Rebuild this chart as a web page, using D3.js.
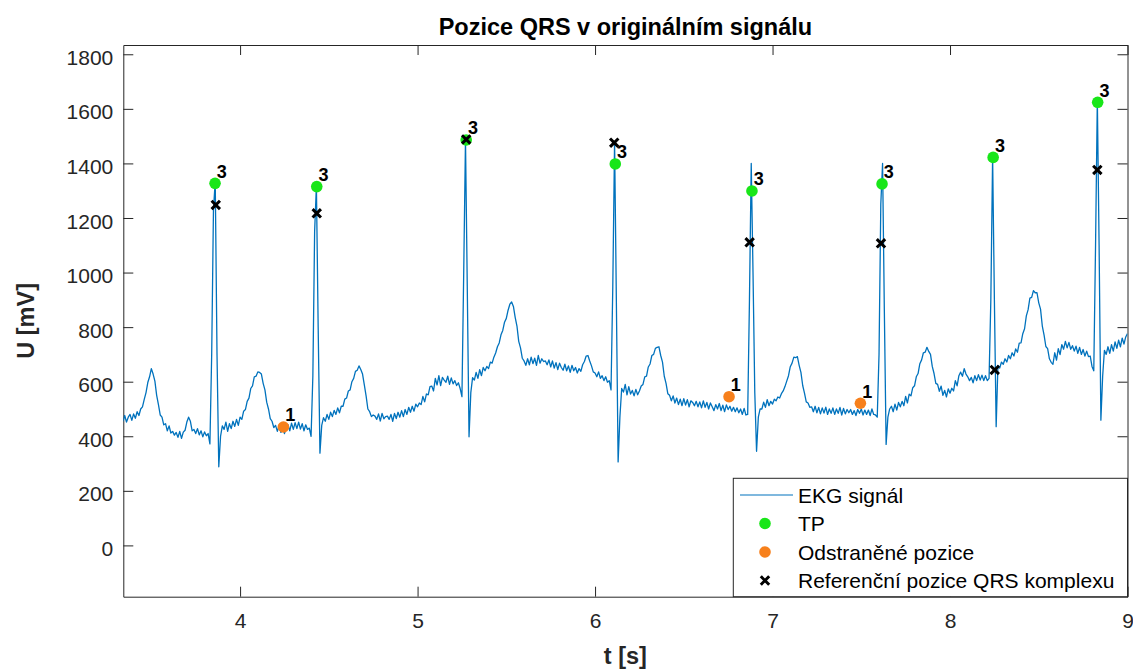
<!DOCTYPE html>
<html>
<head>
<meta charset="utf-8">
<script src="https://cdn.jsdelivr.net/npm/d3@7"></script>
<style>
  body { margin: 0; background: #fff; }
  svg { display: block; }
  text { font-family: "Liberation Sans", Arial, Helvetica, sans-serif; }
</style>
</head>
<body>
<svg id="chart" width="1133" height="671"></svg>
<script>
// ECG record, sampled at fs Hz starting at t0 seconds
const fs = 100;
const t0 = 3.34;
const ekg = [
  455,476,452,470,480,458,482,466,490,476,
  500,508,535,560,597,618,648,628,602,550,
  516,478,470,442,446,420,438,412,418,404,
  414,396,418,392,415,422,452,470,455,420,
  425,410,428,405,420,398,416,402,410,372,
  700,1230,1335,700,288,400,438,
  425,452,418,446,428,455,436,462,440,470,
  462,492,498,528,540,575,585,618,620,636,
  634,628,594,570,525,500,465,455,432,440,
  418,440,414,436,410,432,442,420,448,425,
  450,428,452,426,446,420,442,425,430,400,
  620,1150,1318,800,338,440,468,
  455,480,462,488,472,495,480,504,486,510,
  510,536,540,566,570,600,612,638,642,658,
  645,628,588,548,500,490,472,478,474,462,
  482,456,484,464,472,474,462,480,455,484,
  465,488,470,494,472,498,480,506,488,510,
  492,518,508,522,516,546,526,555,552,582,
  584,566,612,588,622,586,616,606,598,620,
  590,614,592,604,586,596,575,
  545,1000,1488,950,398,560,615,
  606,634,612,644,622,652,640,656,648,672,
  668,690,705,728,742,772,788,818,832,862,
  884,892,876,836,804,748,724,686,676,660,
  684,662,690,666,686,660,696,668,684,674,
  676,662,680,654,676,650,670,644,668,652,
  642,664,640,658,634,660,640,652,632,648,
  638,662,674,694,696,676,658,636,632,618,
  636,612,622,604,618,598,604,570,
  950,1480,900,306,470,575,
  562,590,552,582,555,568,548,572,552,566,
  584,590,618,620,654,665,696,700,722,726,
  728,696,672,620,594,556,550,530,548,522,
  540,516,536,512,538,514,534,508,530,524,
  512,528,508,526,504,530,506,524,500,522,
  508,494,516,500,520,494,514,490,515,498,
  510,492,506,490,504,486,500,480,502,478,
  480,900,1400,1000,560,345,470,500,
  500,525,506,534,512,528,518,536,530,544,
  540,556,566,582,602,622,655,668,690,688,
  692,660,634,586,558,526,522,506,508,490,
  510,486,506,482,504,485,507,480,500,484,
  504,480,500,484,506,478,502,482,498,486,
  498,480,494,476,498,484,500,478,496,480,
  496,476,500,480,478,
  470,700,1250,1400,860,370,470,500,
  510,490,518,496,524,508,528,512,546,522,
  554,548,578,585,618,630,666,680,706,708,
  726,711,700,656,630,594,590,565,584,550,
  568,544,574,558,576,566,604,585,622,635,
  620,648,628,618,604,616,596,622,604,626,
  606,624,604,622,604,612,
  900,1425,900,435,660,650,
  672,664,684,672,696,684,706,694,720,708,
  741,742,776,794,841,864,906,909,934,926,
  926,889,866,804,771,729,721,684,671,664,
  706,679,721,699,736,719,748,724,744,719,
  732,712,730,704,726,700,718,694,712,692,
  694,656,640,
  1100,1635,1100,459,620,715,
  700,728,704,736,712,746,722,752,728,760,738,764,776
];

// Detected QRS positions (true positives) and their labels
const tpT = [3.859, 4.432, 5.274, 6.114, 6.884, 7.617, 8.243, 8.832];
const tpV = [1327, 1315, 1486, 1398, 1299, 1325, 1422, 1624];
const tpLabel = ["3", "3", "3", "3", "3", "3", "3", "3"];

// Removed detections and their labels
const removedT = [4.244, 6.755, 7.495];
const removedV = [434, 545, 521];
const removedLabel = ["1", "1", "1"];

// Reference QRS annotations
const refT = [3.863, 4.432, 5.274, 6.108, 6.871, 7.611, 8.252, 8.830];
const refV = [1248, 1217, 1488, 1476, 1111, 1107, 643, 1376];

const xTicks = [4, 5, 6, 7, 8, 9];
const yTicks = [0, 200, 400, 600, 800, 1000, 1200, 1400, 1600, 1800];
const xDomain = [3.342, 9];
const yDomain = [-188, 1834];

const titleText = "Pozice QRS v originálním signálu";
const xLabel = "t [s]";
const yLabel = "U [mV]";
const legendLabels = ["EKG signál", "TP", "Odstraněné pozice", "Referenční pozice QRS komplexu"];

// ---- layout ----
const svg = d3.select("#chart");
const plot = { left: 123.3, right: 1127.5, top: 45, bottom: 596.7 };
const axisColor = "#262626";
const lineColor = "#0072BD";
const tpColor = "#19e619";
const removedColor = "#f7801c";

const x = d3.scaleLinear().domain(xDomain).range([plot.left, plot.right]);
const y = d3.scaleLinear().domain(yDomain).range([plot.bottom, plot.top]);

svg.append("defs").append("clipPath").attr("id", "plot-clip")
  .append("rect")
  .attr("x", plot.left).attr("y", plot.top)
  .attr("width", plot.right - plot.left).attr("height", plot.bottom - plot.top);

// ---- axes (inward ticks on all four sides) ----
function styleAxis(g) {
  g.selectAll("path.domain").attr("stroke", axisColor).attr("stroke-width", 1);
  g.selectAll(".tick line").attr("stroke", axisColor).attr("stroke-width", 1);
  g.selectAll(".tick text").attr("fill", axisColor).style("font-size", "21px");
}

const gx = svg.append("g")
  .attr("transform", `translate(0,${plot.bottom})`)
  .call(d3.axisBottom(x).tickValues(xTicks).tickFormat(d3.format("d"))
    .tickSize(-10).tickSizeOuter(0).tickPadding(16));
styleAxis(gx);

const gy = svg.append("g")
  .attr("transform", `translate(${plot.left},0)`)
  .call(d3.axisLeft(y).tickValues(yTicks).tickFormat(d3.format("d"))
    .tickSize(-10).tickSizeOuter(0).tickPadding(10));
styleAxis(gy);
gy.selectAll(".tick text").attr("dy", "0.48em");

const gt = svg.append("g")
  .attr("transform", `translate(0,${plot.top})`)
  .call(d3.axisTop(x).tickValues(xTicks).tickFormat("").tickSize(-10).tickSizeOuter(0));
styleAxis(gt);

const gr = svg.append("g")
  .attr("transform", `translate(${plot.right},0)`)
  .call(d3.axisRight(y).tickValues(yTicks).tickFormat("").tickSize(-10).tickSizeOuter(0));
styleAxis(gr);

// ---- signal ----
const line = d3.line()
  .x((d, i) => x(t0 + i / fs))
  .y(d => y(d));

const plotArea = svg.append("g").attr("clip-path", "url(#plot-clip)");

plotArea.append("path")
  .datum(ekg)
  .attr("d", line)
  .attr("fill", "none")
  .attr("stroke", lineColor)
  .attr("stroke-width", 1.3)
  .attr("stroke-linejoin", "round");

// ---- markers ----
const tpData = tpT.map((t, i) => ({ t, v: tpV[i], label: tpLabel[i] }));
const removedData = removedT.map((t, i) => ({ t, v: removedV[i], label: removedLabel[i] }));
const refData = refT.map((t, i) => ({ t, v: refV[i] }));

plotArea.selectAll("circle.tp").data(tpData).join("circle")
  .attr("class", "tp")
  .attr("cx", d => x(d.t)).attr("cy", d => y(d.v))
  .attr("r", 5.8).attr("fill", tpColor);

plotArea.selectAll("circle.removed").data(removedData).join("circle")
  .attr("class", "removed")
  .attr("cx", d => x(d.t)).attr("cy", d => y(d.v))
  .attr("r", 5.8).attr("fill", removedColor);

const crossPath = s => `M${-s},${-s}L${s},${s}M${-s},${s}L${s},${-s}`;

plotArea.selectAll("path.ref").data(refData).join("path")
  .attr("class", "ref")
  .attr("transform", d => `translate(${x(d.t)},${y(d.v)})`)
  .attr("d", crossPath(4.2))
  .attr("stroke", "#000").attr("stroke-width", 3).attr("fill", "none");

// ---- count labels next to the markers ----
svg.selectAll("text.cnt").data(tpData.concat(removedData)).join("text")
  .attr("class", "cnt")
  .attr("x", d => x(d.t) + 1.8)
  .attr("y", d => y(d.v) - 5.5)
  .attr("fill", "#000")
  .style("font-size", "18px").style("font-weight", "bold")
  .text(d => d.label);

// ---- titles ----
svg.append("text")
  .attr("x", (plot.left + plot.right) / 2).attr("y", 35)
  .attr("text-anchor", "middle")
  .style("font-size", "23.5px").style("font-weight", "bold").attr("fill", "#000")
  .text(titleText);

svg.append("text")
  .attr("x", (plot.left + plot.right) / 2).attr("y", 664)
  .attr("text-anchor", "middle")
  .style("font-size", "23.5px").style("font-weight", "bold").attr("fill", axisColor)
  .text(xLabel);

svg.append("text")
  .attr("transform", `translate(34,${(plot.top + plot.bottom) / 2}) rotate(-90)`)
  .attr("text-anchor", "middle")
  .style("font-size", "23.5px").style("font-weight", "bold").attr("fill", axisColor)
  .text(yLabel);

// ---- legend ----
const legend = svg.append("g");
const lg = { left: 733.3, top: 478.3, right: plot.right, bottom: plot.bottom };
legend.append("rect")
  .attr("x", lg.left).attr("y", lg.top)
  .attr("width", lg.right - lg.left).attr("height", lg.bottom - lg.top)
  .attr("fill", "#fff").attr("stroke", axisColor).attr("stroke-width", 1);

const rowY = i => lg.top + 16.7 + i * 28.5;
const symX = 765;
legend.append("line")
  .attr("x1", 740).attr("x2", 793).attr("y1", rowY(0)).attr("y2", rowY(0))
  .attr("stroke", lineColor).attr("stroke-width", 1.1);
legend.append("circle").attr("cx", symX).attr("cy", rowY(1)).attr("r", 5.8).attr("fill", tpColor);
legend.append("circle").attr("cx", symX).attr("cy", rowY(2)).attr("r", 5.8).attr("fill", removedColor);
legend.append("path")
  .attr("transform", `translate(${symX},${rowY(3)})`)
  .attr("d", crossPath(4.2))
  .attr("stroke", "#000").attr("stroke-width", 3).attr("fill", "none");

legend.selectAll("text.lab").data(legendLabels).join("text")
  .attr("class", "lab")
  .attr("x", 798).attr("y", (d, i) => rowY(i) + 7.5)
  .attr("fill", "#000")
  .style("font-size", "21px")
  .text(d => d);
</script>
</body>
</html>
